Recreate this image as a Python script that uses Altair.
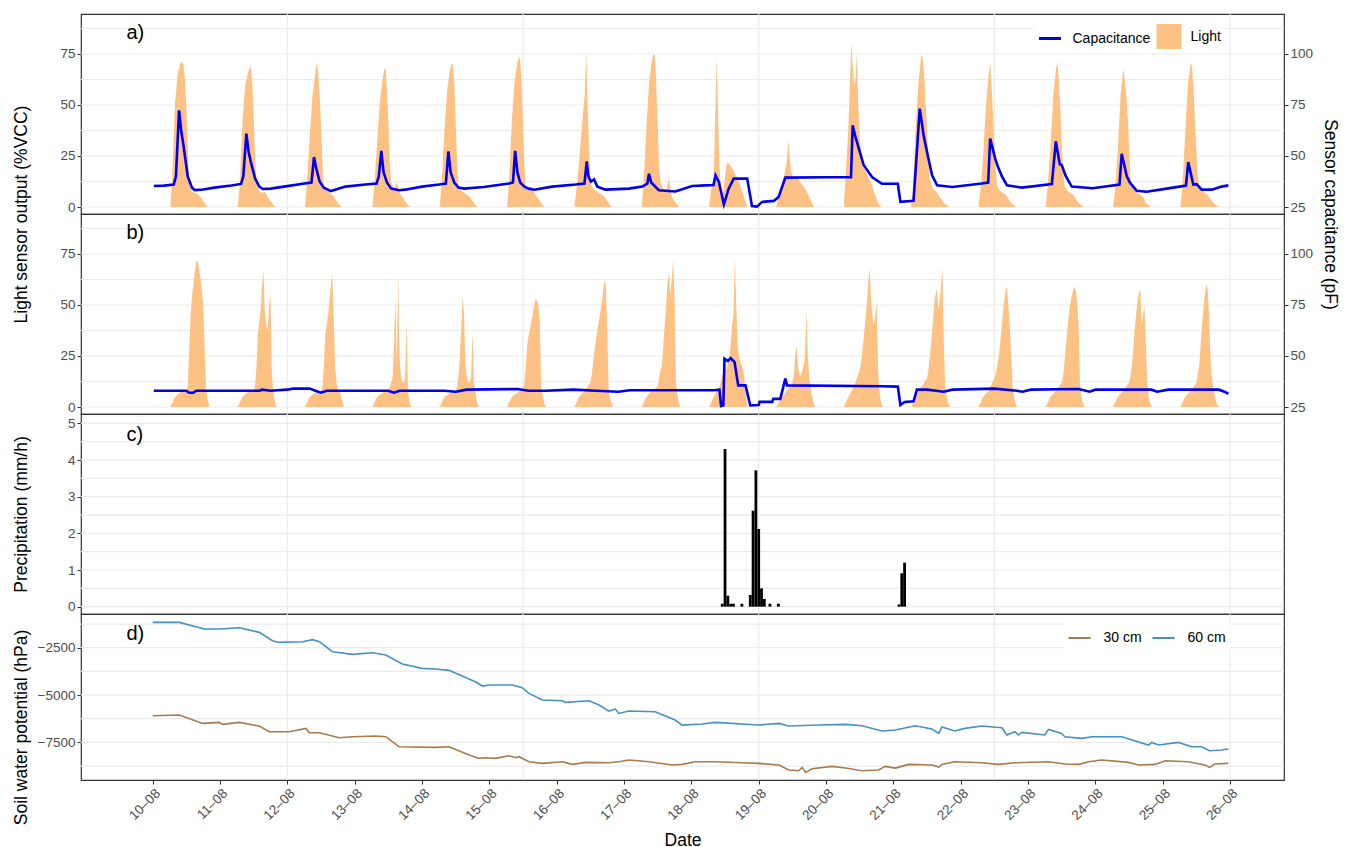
import altair as alt
import pandas as pd

BASE = pd.Timestamp("2021-08-10 00:00")

LIGHT_COL = "#FDC283"
CAP_COL = "#0000EE"
COL_30 = "#A67B50"
COL_60 = "#4592C0"
GRID = "#EBEBEB"

# ---------------- panel a: light sensor (%VCC), hour-of-day grid ----------------
light_days = list(range(10, 26))
light_a_hours = [6.3, 7, 8, 9, 10, 10.5, 11, 11.5, 12, 12.5, 13, 14, 15, 16, 17, 18, 19, 19.8]
light_a_vals = [
    [0, 15, 52, 66, 71, 71, 70, 62, 48, 30, 11, 7.5, 7, 6.5, 5, 3, 1, 0],
    [0, 10, 42, 60, 66, 68, 68.6, 60, 45, 25, 12, 8, 7, 7.5, 5, 3, 1, 0],
    [0, 12, 35, 55, 66, 71, 66, 55, 40, 22, 10, 8, 7, 6, 4, 2, 0.5, 0],
    [0, 10, 32, 52, 63, 67, 68.6, 58, 42, 22, 12, 9, 12, 7, 5, 3, 1, 0],
    [0, 12, 38, 58, 67, 70, 70, 60, 42, 22, 10, 8, 7, 6, 5, 3, 1, 0],
    [0, 12, 42, 62, 71, 73.8, 72, 60, 40, 20, 10, 9, 10, 7, 5, 3, 1, 0],
    [0, 8, 22, 40, 55, 76.8, 50, 30, 15, 10, 9, 8, 7, 6, 5, 3, 1, 0],
    [0, 12, 40, 62, 72, 75, 74, 60, 40, 20, 12, 9, 8, 14, 5, 3, 1, 0],
    [0, 8, 15, 73, 20, 10, 5, 8, 15, 20, 22, 20, 18, 15, 12, 8, 4, 0],
    [0, 5, 10, 15, 22, 33, 25, 18, 15, 14, 15, 14, 12, 10, 8, 5, 2, 0],
    [0, 15, 40, 80, 60, 62, 76, 50, 35, 25, 20, 18, 15, 12, 8, 4, 1, 0],
    [0, 10, 40, 62, 75, 72, 65, 50, 38, 25, 14, 9, 8, 6, 4, 2, 1, 0],
    [0, 8, 25, 50, 65, 71, 60, 45, 30, 18, 10, 8, 7, 6, 4, 2, 1, 0],
    [0, 10, 30, 55, 68, 71, 62, 48, 32, 18, 10, 8, 7, 6, 4, 2, 1, 0],
    [0, 8, 28, 55, 68, 62, 55, 45, 30, 15, 10, 8, 7, 6, 5, 2, 1, 0],
    [0, 10, 35, 60, 71, 68, 58, 42, 28, 15, 10, 8, 7, 6, 4, 2, 1, 0],
]

# ---------------- panel b: light sensor (%VCC) ----------------
light_b_hours = [6.3, 8, 10, 12, 12.5, 13, 13.5, 14, 14.5, 15, 15.5, 16, 16.5, 17, 17.5, 18, 18.5, 19, 19.5, 20.2]
light_b_vals = [
    [0, 5, 7.5, 8, 10, 28, 45, 54, 60, 66, 71, 72, 68, 63, 58, 50, 30, 9, 4, 0],
    [0, 5, 7.5, 8, 10, 20, 35, 42, 48, 60, 67, 45, 40, 38, 50, 55, 15, 8, 3, 0],
    [0, 5, 7, 8, 10, 20, 35, 40, 45, 52, 60, 65, 45, 20, 12, 9, 8, 6, 3, 0],
    [0, 5, 7, 8, 10, 12, 14, 30, 54, 20, 66, 25, 15, 12, 12, 15, 42, 8, 3, 0],
    [0, 5, 7, 8, 10, 15, 25, 40, 54, 45, 20, 15, 12, 12, 15, 37, 12, 8, 3, 0],
    [0, 5, 7, 9, 12, 20, 30, 35, 38, 42, 46, 50, 53, 52, 50, 40, 10, 6, 2, 0],
    [0, 5, 8, 12, 16, 22, 28, 33, 38, 42, 46, 50, 56, 62, 60, 40, 10, 5, 2, 0],
    [0, 5, 8, 10, 14, 18, 20, 30, 40, 50, 60, 66, 55, 62, 72, 55, 12, 6, 2, 0],
    [0, 5, 10, 20, 18, 22, 25, 30, 40, 45, 73, 50, 30, 25, 22, 20, 18, 12, 5, 0],
    [0, 4, 8, 12, 15, 25, 30, 20, 16, 15, 18, 20, 25, 48, 25, 15, 10, 6, 2, 0],
    [0, 5, 10, 18, 22, 28, 35, 42, 50, 60, 68, 55, 45, 40, 45, 52, 20, 8, 3, 0],
    [0, 5, 10, 14, 18, 25, 32, 40, 50, 55, 58, 48, 52, 60, 68, 30, 10, 5, 2, 0],
    [0, 5, 8, 14, 16, 20, 24, 30, 38, 45, 52, 57, 59, 50, 40, 25, 10, 5, 2, 0],
    [0, 5, 8, 12, 15, 22, 30, 38, 45, 50, 54, 57, 59, 57, 52, 40, 12, 5, 2, 0],
    [0, 5, 8, 12, 15, 20, 28, 38, 45, 52, 56, 58, 40, 45, 50, 30, 12, 5, 2, 0],
    [0, 5, 8, 12, 16, 20, 30, 40, 48, 55, 60, 58, 45, 25, 15, 10, 6, 3, 1, 0],
]

# ---------------- capacitance (pF), hours since 10-08 00:00 ----------------
cap_a_points = [
    (0.4, 35.3), (4, 35.5), (7.5, 36.0), (8.3, 40), (9.4, 72.4), (10.2, 62), (11, 55), (12.5, 40),
    (14, 34.5), (15, 33.3), (18, 33.6), (22, 34.5), (28, 35.5),
    (31.5, 36.3), (32.3, 40), (33.4, 61), (34.2, 52), (35, 47), (36.5, 39), (38, 35), (39.2, 33.8),
    (42, 34), (47.4, 35.1), (53.5, 36.4),
    (56.6, 37), (57.5, 49.5), (58.3, 44), (59.5, 37.5), (61, 34.5), (63.5, 32.8), (68.7, 35),
    (75.8, 36), (79.8, 36.5),
    (80.6, 40), (81.5, 52.5), (82.3, 42), (83.5, 37), (85, 34), (87.8, 33.2), (90, 33.5), (96, 35),
    (102, 36), (104.5, 36.5),
    (105.4, 52.3), (106.2, 42), (107.5, 37), (109, 34.5), (111, 34), (118, 34.8), (127, 36.5),
    (128.4, 37),
    (129.2, 52.5), (130, 42), (131, 37), (132.5, 35), (134, 34), (136, 33.5), (142.4, 35),
    (150.7, 36), (153.9, 36.5),
    (154.7, 47.4), (155.3, 40), (156.2, 37.5), (157.3, 38.5), (158.5, 35), (161.4, 33.5),
    (169.7, 34), (174.5, 35), (176.3, 36.4),
    (176.9, 41.3), (177.7, 37), (180.4, 33.2), (186.3, 32.6), (192.3, 35.3), (197, 35.6),
    (199.9, 35.8),
    (200.6, 40.5), (201.8, 37.3), (203.6, 26.3), (205.3, 34), (207.1, 38.9), (211.9, 38.9),
    (213.6, 25.5), (215.4, 25.2), (217.2, 27.5), (221.4, 28), (223.1, 29.9), (225.5, 39.4),
    (240, 39.6), (248.9, 39.6),
    (249.5, 65), (250.4, 59.7), (253.4, 45.6), (256.4, 39.7), (259.9, 36.4), (265.6, 36.4),
    (266.5, 27.5), (271.2, 28),
    (273.4, 73.2), (274.8, 60), (276, 52), (277.8, 40.5), (279.6, 35.6), (285, 34.8),
    (295.5, 36.5), (297.8, 37),
    (298.5, 58.5), (300.3, 48.7), (301.2, 45), (302.7, 40), (304.5, 35.6), (309.8, 34.5),
    (320.5, 36.2),
    (321.9, 57.2), (323.3, 46), (324, 45.6), (325.5, 40), (327.6, 35), (335, 34.2), (344.6, 36),
    (345.4, 51.1), (347.2, 40), (348.3, 37), (350.7, 33), (354.3, 32.5), (361.4, 34),
    (368.3, 35.5),
    (369.1, 47), (370.9, 36), (372.1, 36.2), (373.9, 33.5), (377.5, 33.5), (381, 35),
    (383.4, 35.6),
]
cap_b_points = [
    (0.4, 33.0), (12, 33.0), (13, 32.0), (14.5, 32.0), (15.5, 33.0), (38, 33.0), (39, 33.5),
    (42, 33.0), (48, 33.5), (50, 34.0), (56, 34.0), (58, 33.0), (60, 32.0), (62, 33.0),
    (84, 33.0), (86, 32.0), (88, 33.0), (104, 33.0), (108, 32.5), (112, 33.5), (130, 33.8),
    (134, 33.0), (140, 33.0), (150, 33.5), (158, 33.0), (166, 32.5), (170, 33.2), (200, 33.2),
    (202.0, 33.5), (202.6, 25.5), (203.4, 25.8), (203.8, 48.7), (205, 47.5), (206, 49),
    (207.4, 47), (208.7, 35.6), (211.3, 35.6), (213, 25.8), (216, 26), (216.3, 27.5),
    (220.8, 27.5), (221.2, 29), (223.7, 29), (225.5, 38.9), (226.1, 35.6), (260, 35.2),
    (265.6, 35), (266.5, 26), (268, 27.5), (271.2, 27.8), (272.4, 33.5), (276, 33.5),
    (282, 32.5), (285, 33.5), (300, 34), (308, 33), (310, 32.5), (313, 33.5), (330, 33.8),
    (334, 32.5), (336, 33.5), (356, 33.5), (358, 32.5), (362, 33.5), (380, 33.5), (382, 32.5),
    (383.4, 31.5),
]

# ---------------- precipitation (mm/h), hourly bars ----------------
rain_hours = [203, 204, 205, 206, 207, 210, 213, 214, 215, 216, 217, 218, 220, 223, 266, 267, 268]
rain_vals = [0.08, 4.3, 0.3, 0.08, 0.08, 0.08, 0.32, 2.62, 3.72, 2.12, 0.5, 0.21, 0.08, 0.08,
             0.06, 0.91, 1.2]

# ---------------- soil water potential (hPa) ----------------
swp60_points = [
    (0, -1164), (9.5, -1164), (17.8, -1480), (18.4, -1512), (24.2, -1512), (30.9, -1444),
    (38.0, -1690), (42.7, -2130), (45.1, -2220), (53.4, -2183), (57.0, -2077), (59.4, -2183),
    (64.1, -2711), (71.2, -2852), (78.3, -2764), (83.1, -2887), (89.0, -3363), (96.1, -3592),
    (100.8, -3627), (105.6, -3697), (115.0, -4296), (117.5, -4525), (119.9, -4472),
    (128.2, -4472), (131.7, -4613), (134.1, -4913), (138.9, -5264), (146.0, -5300),
    (147.1, -5389), (155.5, -5300), (159.1, -5530), (162.6, -5846), (164.9, -5742),
    (166.2, -5970), (169.7, -5846), (179.1, -5880), (186.2, -6320), (188.7, -6585),
    (195.8, -6532), (200.5, -6444), (216.0, -6585), (223.2, -6497), (226.7, -6637),
    (237.4, -6585), (246.9, -6550), (252.8, -6620), (259.9, -6900), (264.7, -6848),
    (271.8, -6620), (277.7, -6795), (280.2, -7025), (281.3, -6690), (285.9, -6900),
    (289.5, -6760), (295.5, -6637), (302.7, -6725), (304.4, -7110), (307.3, -6936),
    (308.6, -7110), (309.8, -6970), (318.0, -7110), (319.3, -6813), (324.0, -7025),
    (325.1, -7200), (331.2, -7287), (334.7, -7200), (345.4, -7200), (354.9, -7640),
    (356.1, -7500), (358.5, -7640), (365.6, -7500), (370.3, -7728), (373.9, -7728),
    (376.7, -7940), (381.0, -7904), (383.4, -7852),
]
swp30_points = [
    (0, -6091), (9.5, -6056), (17.8, -6497), (23.7, -6444), (24.9, -6550), (30.9, -6444),
    (38.0, -6637), (41.5, -6936), (48.7, -6936), (54.6, -6760), (55.8, -6989), (59.4, -6989),
    (66.5, -7253), (71.2, -7200), (79.4, -7165), (83.1, -7200), (87.8, -7728), (100.8, -7764),
    (105.6, -7728), (112.8, -8168), (116.3, -8345), (118.7, -8310), (122.2, -8345),
    (127.0, -8205), (129.4, -8310), (130.6, -8257), (134.1, -8521), (138.9, -8609),
    (146.0, -8521), (149.6, -8662), (154.3, -8557), (162.6, -8574), (166.2, -8521),
    (169.7, -8433), (176.9, -8521), (185.2, -8697), (188.7, -8662), (193.4, -8521),
    (200.5, -8521), (210.1, -8574), (216.0, -8609), (223.2, -8697), (226.7, -8961),
    (230.3, -8996), (231.5, -8821), (232.7, -9085), (235.0, -8891), (242.2, -8768),
    (246.9, -8856), (252.8, -8996), (258.7, -8961), (261.1, -8768), (264.7, -8856),
    (269.5, -8662), (277.7, -8697), (280.2, -8803), (281.3, -8662), (285.9, -8521),
    (295.5, -8574), (301.4, -8662), (307.3, -8574), (319.3, -8521), (325.1, -8644),
    (330.0, -8662), (333.6, -8521), (338.3, -8433), (347.8, -8557), (351.4, -8697),
    (357.3, -8662), (360.9, -8468), (369.1, -8521), (375.0, -8697), (376.7, -8821),
    (378.6, -8644), (383.4, -8609),
]

# ---------------- axes / grid values ----------------
x_tick_days = list(range(10, 27))
x_grid_hours = [48, 132, 216, 300, 384]
y_grid_ab = [0, 12.5, 25, 37.5, 50, 62.5, 75, 87.5]
y_grid_c = [0, 0.5, 1, 1.5, 2, 2.5, 3, 3.5, 4, 4.5, 5]
y_grid_d = [-8750, -7500, -6250, -5000, -3750, -2500, -1250]


def ts(h):
    return BASE + pd.Timedelta(hours=h)


def light_df(hours, vals):
    rows = []
    for i, day in enumerate(light_days):
        for h, v in zip(hours, vals[i]):
            rows.append({"t": ts((day - 10) * 24 + h), "v": v, "s": "Light"})
    return pd.DataFrame(rows)


def pts_df(points, name):
    return pd.DataFrame({"t": [ts(h) for h, _ in points], "v": [v for _, v in points], "s": name})


la_df = light_df(light_a_hours, light_a_vals)
lb_df = light_df(light_b_hours, light_b_vals)
ca_df = pts_df(cap_a_points, "Capacitance")
cb_df = pts_df(cap_b_points, "Capacitance")
rain_df = pd.DataFrame({
    "t0": [ts(h - 0.5) for h in rain_hours],
    "t1": [ts(h + 0.5) for h in rain_hours],
    "p": rain_vals,
})
swp_df = pd.concat([pts_df(swp30_points, "30 cm"), pts_df(swp60_points, "60 cm")])
vgrid_df = pd.DataFrame({"t": [ts(h) for h in x_grid_hours]})

W = 1203
x_scale = alt.Scale(domain=[
    alt.DateTime(year=2021, month=8, date=8, hours=22, minutes=27),
    alt.DateTime(year=2021, month=8, date=26, hours=19, minutes=14),
])
yl_scale = alt.Scale(domain=[-3.43, 94.6], nice=False, zero=False)
yr_scale = alt.Scale(domain=[21.57, 119.6], nice=False, zero=False)
yc_scale = alt.Scale(domain=[-0.2, 5.256], nice=False, zero=False)
yd_scale = alt.Scale(domain=[-9486, -720], nice=False, zero=False)

TITLE_X = -51

x_axis_d = alt.Axis(values=[alt.DateTime(year=2021, month=8, date=d) for d in x_tick_days],
                    format="%d\u2013%m", labelAngle=-45, labelAlign="right",
                    labelBaseline="top", title="Date", titleY=51)


def hgrid(values, scale, axis):
    return alt.Chart(pd.DataFrame({"g": values})).mark_rule(color=GRID, strokeWidth=1.2).encode(
        y=alt.Y("g:Q", scale=scale, axis=axis))


def vgrid(axis=None):
    return alt.Chart(vgrid_df).mark_rule(color=GRID, strokeWidth=1.2).encode(
        x=alt.X("t:T", scale=x_scale, axis=axis))


def label(txt, y):
    return alt.Chart(pd.DataFrame({"lab": [txt]})).mark_text(
        fontSize=20, align="left", baseline="middle", color="black").encode(
        x=alt.value(45.5), y=alt.value(y), text="lab:N")


def light_panel(ldf, cdf, lab, first):
    if first:
        fill = alt.Fill("s:N", scale=alt.Scale(domain=["Light"], range=[LIGHT_COL]),
                        legend=alt.Legend(orient="none", legendX=1071.5, legendY=6, title=None,
                                          symbolType="square", symbolSize=625, symbolOpacity=1,
                                          symbolStrokeWidth=0, labelOffset=9,
                                          fillColor="white", padding=4))
        stroke = alt.Stroke("s:N", scale=alt.Scale(domain=["Capacitance"], range=[CAP_COL]),
                            legend=alt.Legend(orient="none", legendX=952.5, legendY=8, title=None,
                                              symbolType="stroke", symbolSize=484,
                                              symbolStrokeWidth=3, labelOffset=10,
                                              fillColor="white", padding=4))
        left_axis = alt.Axis(values=[0, 25, 50, 75], title="Light sensor output (%VCC)",
                             titleX=TITLE_X, titleY=200)
        right_axis = alt.Axis(values=[25, 50, 75, 100], orient="right",
                              title="Sensor capacitance (pF)", titleX=36, titleY=200)
    else:
        fill = alt.value(LIGHT_COL)
        stroke = alt.value(CAP_COL)
        left_axis = alt.Axis(values=[0, 25, 50, 75], title=None)
        right_axis = alt.Axis(values=[25, 50, 75, 100], orient="right", title=None)

    area = alt.Chart(ldf).mark_area(opacity=1, interpolate="linear").encode(
        x=alt.X("t:T", scale=x_scale, axis=None),
        y=alt.Y("v:Q", scale=yl_scale, axis=left_axis),
        y2=alt.datum(0),
        fill=fill,
    )
    line = alt.Chart(cdf).mark_line(strokeWidth=2.6).encode(
        x=alt.X("t:T", scale=x_scale, axis=None),
        y=alt.Y("v:Q", scale=yr_scale, axis=right_axis),
        stroke=stroke,
    )
    left = alt.layer(hgrid(y_grid_ab, yl_scale, left_axis), vgrid(), area, label(lab, 19))
    return alt.layer(left, line).resolve_scale(y="independent").properties(width=W, height=200)


pa = light_panel(la_df, ca_df, "a)", True)
pb = light_panel(lb_df, cb_df, "b)", False)

c_axis = alt.Axis(values=[0, 1, 2, 3, 4, 5], title="Precipitation (mm/h)", titleX=TITLE_X)
bars = alt.Chart(rain_df).mark_bar(color="black").encode(
    x=alt.X("t0:T", scale=x_scale, axis=None),
    x2="t1:T",
    y=alt.Y("p:Q", scale=yc_scale, axis=c_axis),
    y2=alt.datum(0),
)
pc = alt.layer(hgrid(y_grid_c, yc_scale, c_axis), vgrid(), bars, label("c)", 20.5)).properties(
    width=W, height=200)

d_axis = alt.Axis(values=[-7500, -5000, -2500], format="d",
                  title="Soil water potential (hPa)", titleX=TITLE_X, titleY=113)
swp_lines = alt.Chart(swp_df).mark_line(strokeWidth=1.6).encode(
    x=alt.X("t:T", scale=x_scale, axis=x_axis_d),
    y=alt.Y("v:Q", scale=yd_scale, axis=d_axis),
    color=alt.Color("s:N", scale=alt.Scale(domain=["30 cm", "60 cm"], range=[COL_30, COL_60]),
                    legend=alt.Legend(orient="none", legendX=982.5, legendY=8, title=None,
                                      direction="horizontal", symbolType="stroke",
                                      symbolSize=484, symbolStrokeWidth=2, labelOffset=12,
                                      columnPadding=6, fillColor="white", padding=4)),
)
pd_panel = alt.layer(hgrid(y_grid_d, yd_scale, d_axis), vgrid(x_axis_d), swp_lines,
                     label("d)", 20)).properties(width=W, height=166)

chart = alt.vconcat(pa, pb, pc, pd_panel, spacing=0, bounds="flush").resolve_scale(
    x="independent", y="independent", color="independent", fill="independent",
    stroke="independent",
).properties(
    padding={"left": 11, "top": 12, "right": 5, "bottom": 5}
).configure(
    font="Liberation Sans"
).configure_view(
    stroke="#333333", strokeWidth=1.2
).configure_axis(
    domain=False, grid=False, labelColor="#4D4D4D", labelFontSize=13.5, tickColor="#333333",
    tickSize=4, tickWidth=1, titleColor="black", titleFontSize=17.5, titleFontWeight="normal",
    labelPadding=2,
).configure_legend(
    labelFontSize=14, labelColor="black", orient="none"
)

chart.save("out.html", embed_options={"renderer": "svg", "actions": False})
